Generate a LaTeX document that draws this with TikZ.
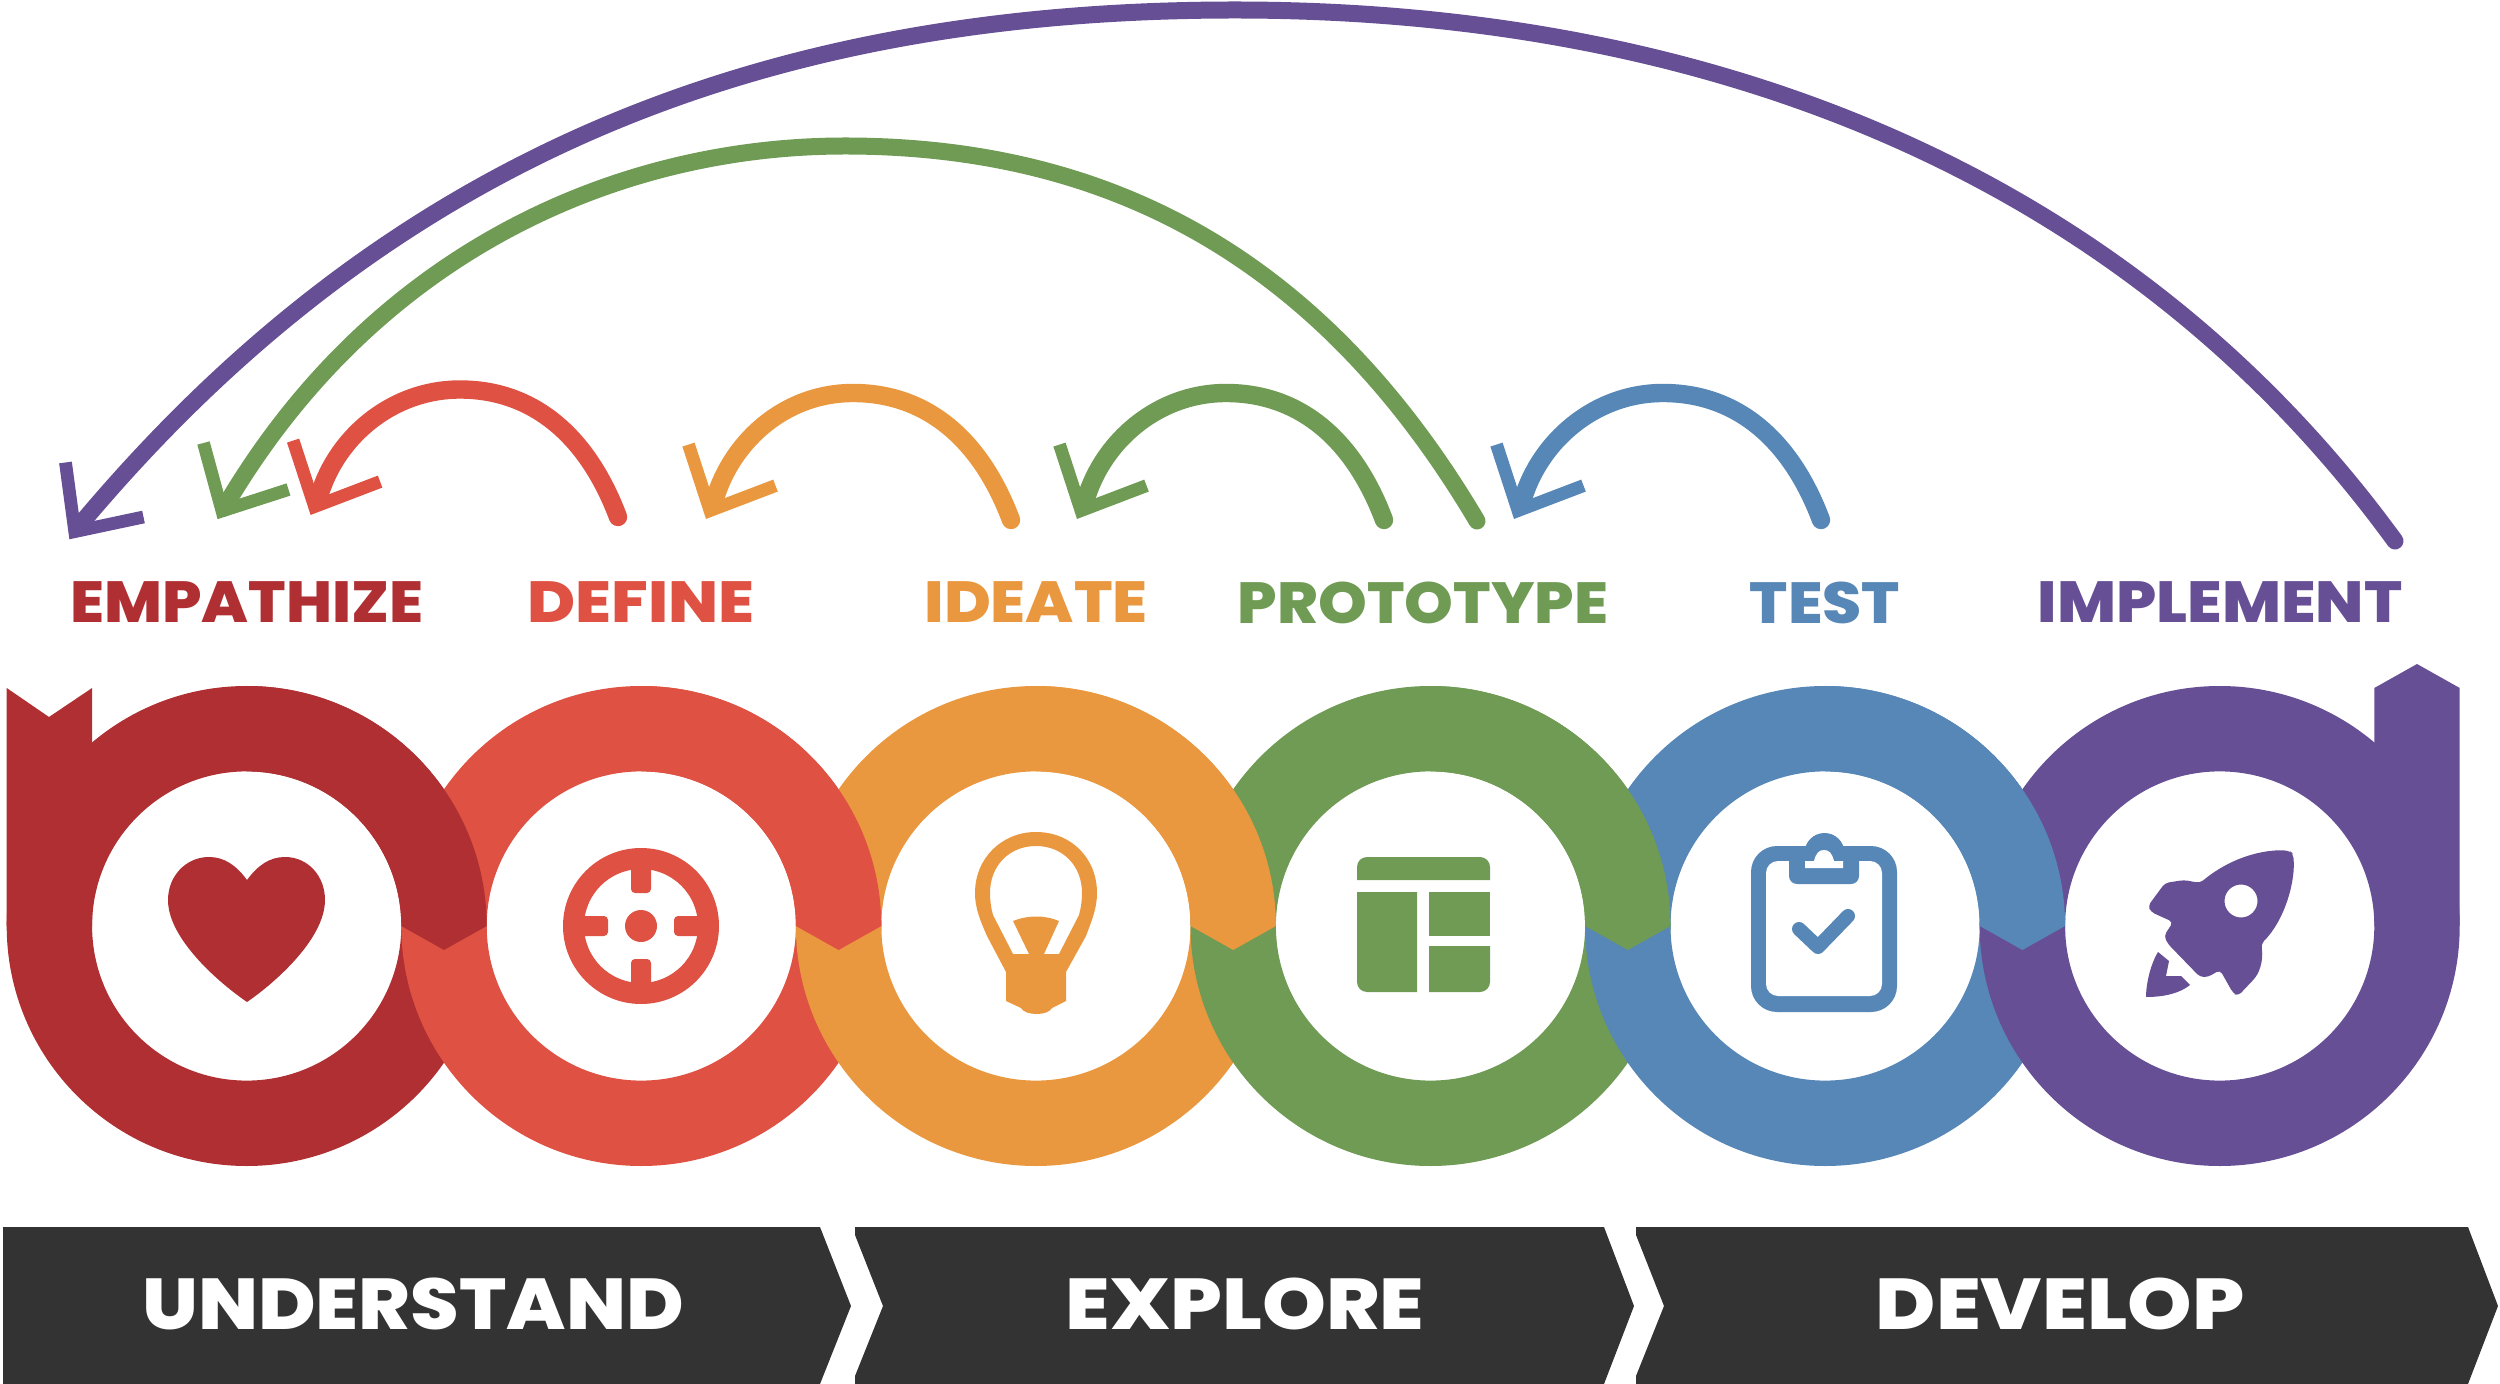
\documentclass[tikz,border=0pt]{standalone}
\usepackage{fontspec}
\usetikzlibrary{calc}
\newfontfamily\stagefont{Poppins ExtraBold}
\definecolor{colEmp}{HTML}{AF2F33}
\definecolor{colDef}{HTML}{DF5142}
\definecolor{colIde}{HTML}{EA983F}
\definecolor{colPro}{HTML}{6F9B54}
\definecolor{colTes}{HTML}{5687B6}
\definecolor{colImp}{HTML}{664F95}
\definecolor{colBar}{HTML}{333333}
\tikzset{
  arcline/.style={line width=8.5pt, line cap=round, draw=#1},
  shortline/.style={line width=9.2pt, line cap=round, draw=#1},
  headline/.style={line width=6.4pt, draw=#1},
  ring/.style={fill=#1, even odd rule},
  stagelabel/.style={font=\stagefont\fontsize{29}{29}\selectfont, text=#1, inner sep=0pt},
  phaselabel/.style={font=\stagefont\fontsize{36}{36}\selectfont, text=white, inner sep=0pt},
  phasebar/.style={fill=colBar},
}
\newcommand{\shortarc}[4]{%
  \draw[shortline=#1] (#2) .. controls +(-32,-85) and +(70,0) .. (#3)
    .. controls +(-70,0) and +(15.4,-61.6) .. ($(#4)+(3,-5)$);
  \draw[headline=#1] ($(#4)+(-21.5,-66)$) -- (#4) -- ($(#4)+(65.5,-25)$);
}
\begin{document}
\begin{tikzpicture}[x=0.5pt,y=0.5pt,yscale=-1,xscale=1]
\useasboundingbox (0,0) rectangle (2500,1384);

% --- 1. tails and rings, left to right ---
\fill [colEmp] (6.7,926) -- (6.7,688) -- (49,717) -- (92.1,688) -- (92.1,926) -- cycle;
\fill [colImp] (2374.3,926) -- (2374.3,688) -- (2417,664) -- (2459.7,688) -- (2459.7,926) -- cycle;
\fill [ring=colEmp] (246.7,926) circle (240) (246.7,926) circle (154.6);
\fill [ring=colDef] (641.3,926) circle (240) (641.3,926) circle (154.6);
\fill [ring=colIde] (1035.9,926) circle (240) (1035.9,926) circle (154.6);
\fill [ring=colPro] (1430.5,926) circle (240) (1430.5,926) circle (154.6);
\fill [ring=colTes] (1825.1,926) circle (240) (1825.1,926) circle (154.6);
\fill [ring=colImp] (2219.7,926) circle (240) (2219.7,926) circle (154.6);

% --- 2. upper right quarters lie over the next ring ---
\fill [colEmp] (246.7,686) arc (-90:0:240) -- (444,950) -- (401.3,926) arc (0:-90:154.6) -- cycle;
\fill [colDef] (641.3,686) arc (-90:0:240) -- (838.6,950) -- (795.9,926) arc (0:-90:154.6) -- cycle;
\fill [colIde] (1035.9,686) arc (-90:0:240) -- (1233.2,950) -- (1190.5,926) arc (0:-90:154.6) -- cycle;
\fill [colPro] (1430.5,686) arc (-90:0:240) -- (1627.8,950) -- (1585.1,926) arc (0:-90:154.6) -- cycle;
\fill [colTes] (1825.1,686) arc (-90:0:240) -- (2022.4,950) -- (1979.7,926) arc (0:-90:154.6) -- cycle;

% --- 3. icons ---
% heart
\fill [colEmp] (247,880) .. controls (236,865) and (224,857) .. (209,857)
    .. controls (186,857) and (168,876) .. (168,900)
    .. controls (168,940) and (222,985) .. (247,1002)
    .. controls (272,985) and (325,940) .. (325,900)
    .. controls (325,876) and (308,857) .. (285,857)
    .. controls (270,857) and (258,865) .. (247,880) -- cycle;
% target
\fill [ring=colDef] (641,926) circle (78) (641,926) circle (57);
\fill [colDef] (641,926) circle (16);
\fill [colDef, rounded corners=2pt] (631,860) rectangle (651,893);
\fill [colDef, rounded corners=2pt] (631,959) rectangle (651,992);
\fill [colDef, rounded corners=2pt] (575,916) rectangle (608,936);
\fill [colDef, rounded corners=2pt] (674,916) rectangle (707,936);
% bulb
\fill [colIde, even odd rule] (1006,972) -- (987,936) .. controls (980,920) and (975,908) .. (975,893)
    .. controls (975,858) and (1002,832) .. (1036,832)
    .. controls (1071,832) and (1097,858) .. (1097,893)
    .. controls (1097,908) and (1092,920) .. (1086,936) -- (1066,972) -- (1066,1001) -- (1052,1008)
    .. controls (1048,1016) and (1025,1016) .. (1021,1008) -- (1006,1001) -- cycle
    (1013,954) -- (1029,954) -- (1013,921) .. controls (1028,915) and (1045,915) .. (1059,921)
    -- (1044,954) -- (1059,954) -- (1079,915) .. controls (1081,908) and (1082,900) .. (1082,893)
    .. controls (1082,866) and (1063,846) .. (1036,846)
    .. controls (1009,846) and (990,866) .. (990,893)
    .. controls (990,900) and (991,908) .. (993,915) -- cycle;
% layout
\fill [colPro] (1357,880) [rounded corners=5pt] -- (1357,857) -- (1490,857) [sharp corners] -- (1490,880) -- cycle;
\fill [colPro] (1357,892) [rounded corners=5pt] -- (1357,992) [sharp corners] -- (1417,992) -- (1417,892) -- cycle;
\fill [colPro] (1429,892) rectangle (1490,936);
\fill [colPro] (1429,946) -- (1429,992) [rounded corners=5pt] -- (1490,992) [sharp corners] -- (1490,946) -- cycle;
% clipboard
\fill [colTes, rounded corners=13pt] (1751,846) rectangle (1897,1012);
\fill [white, rounded corners=6pt] (1766,861) rectangle (1882,996);
\fill [colTes] (1824.5,853) circle (20);
\fill [colTes] (1789,846) -- (1789,877) [rounded corners=4pt] -- (1789,884) -- (1859,884) [sharp corners] -- (1859,846) -- cycle;
\fill [white] (1805,861) -- (1814,861) .. controls (1816,853) and (1819,850) .. (1824,850)
    .. controls (1829,850) and (1832,853) .. (1834,861) -- (1843,861) -- (1843,868) -- (1805,868) -- cycle;
\draw [colTes, line width=7pt, line cap=round, line join=round] (1799,929) -- (1818,947) -- (1848,916);
% rocket
\fill [colImp, even odd rule, rounded corners=2pt] (2290,851) .. controls (2270,849) and (2235,854) .. (2200,883)
    -- (2184,880) -- (2165,883) -- (2148,906) -- (2151,912) -- (2173,922) -- (2164,936) -- (2168,944)
    -- (2200,977) -- (2208,977) -- (2220,970) -- (2233,993) -- (2238,996) -- (2256,977)
    .. controls (2262,965) and (2263,955) .. (2261,944)
    .. controls (2285,920) and (2296,880) .. (2293,854) -- cycle
    (2241,901) circle (16.5);
\fill [colImp] (2146,997) .. controls (2146,985) and (2150,965) .. (2158,952) -- (2169,961) -- (2166,976)
    -- (2181,976) -- (2190,985) .. controls (2180,993) and (2165,997) .. (2146,997) -- cycle;

% --- 4. labels ---
\node [stagelabel=colEmp, xscale=1.07] (empathize) at (247,602.5) {EMPATHIZE};
\node [stagelabel=colDef, xscale=1.13] (define) at (641,602.5) {DEFINE};
\node [stagelabel=colIde, xscale=1.10] (ideate) at (1036,602.5) {IDEATE};
\node [stagelabel=colPro, xscale=1.07] (prototype) at (1423,602.5) {PROTOTYPE};
\node [stagelabel=colTes, xscale=1.09] (test) at (1825,602.5) {TEST};
\node [stagelabel=colImp, xscale=1.09] (implement) at (2220,602.5) {IMPLEMENT};

% --- 5. arrows going back ---
\coordinate (defOut) at (618,517);
\coordinate (defTop) at (460,389.5);
\coordinate (defIn) at (314.6,506.6);
\coordinate (ideOut) at (1011,520);
\coordinate (ideTop) at (853,393);
\coordinate (ideIn) at (710,510.6);
\coordinate (proOut) at (1384,520);
\coordinate (proTop) at (1226,393);
\coordinate (proIn) at (1081,510.6);
\coordinate (tesOut) at (1821,520);
\coordinate (tesTop) at (1663,393);
\coordinate (tesIn) at (1518,510.6);
\coordinate (longOut) at (1477,521);
\coordinate (longTop) at (845,146);
\coordinate (longIn) at (222,511);
\coordinate (impOut) at (2395,541);
\coordinate (impTop) at (1235,10);
\coordinate (impIn) at (74.8,531.6);
\draw [arcline=colImp] (impOut) .. controls (2129.5,176.5) and (1715,10) .. (impTop)
    .. controls (755,10) and (382,162) .. ($(impIn)+(2,-3)$);
\draw [headline=colImp] (65.5,462.5) -- (impIn) -- (143.5,517);
\draw [arcline=colPro] (longOut) .. controls (1319,254) and (1105,146) .. (longTop)
    .. controls (620,146) and (375,250) .. ($(longIn)+(2,-3)$);
\draw [headline=colPro] (203.5,443) -- (longIn) -- (288.5,489.5);
\shortarc{colDef}{defOut}{defTop}{defIn}
\shortarc{colIde}{ideOut}{ideTop}{ideIn}
\shortarc{colPro}{proOut}{proTop}{proIn}
\shortarc{colTes}{tesOut}{tesTop}{tesIn}

% --- 6. bars along the bottom ---
\fill [phasebar] (3,1227) -- (820,1227) -- (851,1306) -- (820,1384) -- (3,1384) -- cycle;
\fill [phasebar] (855,1227) -- (1604,1227) -- (1634,1306) -- (1604,1384) -- (855,1384) -- (855,1376) -- (883,1306) -- (855,1235) -- cycle;
\fill [phasebar] (1636,1227) -- (2468,1227) -- (2498,1306) -- (2468,1384) -- (1636,1384) -- (1636,1376) -- (1664,1306) -- (1636,1235) -- cycle;
\node [phaselabel, xscale=1.09] (understand) at (413,1304) {UNDERSTAND};
\node [phaselabel, xscale=1.13] (explore) at (1245,1304) {EXPLORE};
\node [phaselabel, xscale=1.14] (develop) at (2060,1304) {DEVELOP};

\end{tikzpicture}
\end{document}
